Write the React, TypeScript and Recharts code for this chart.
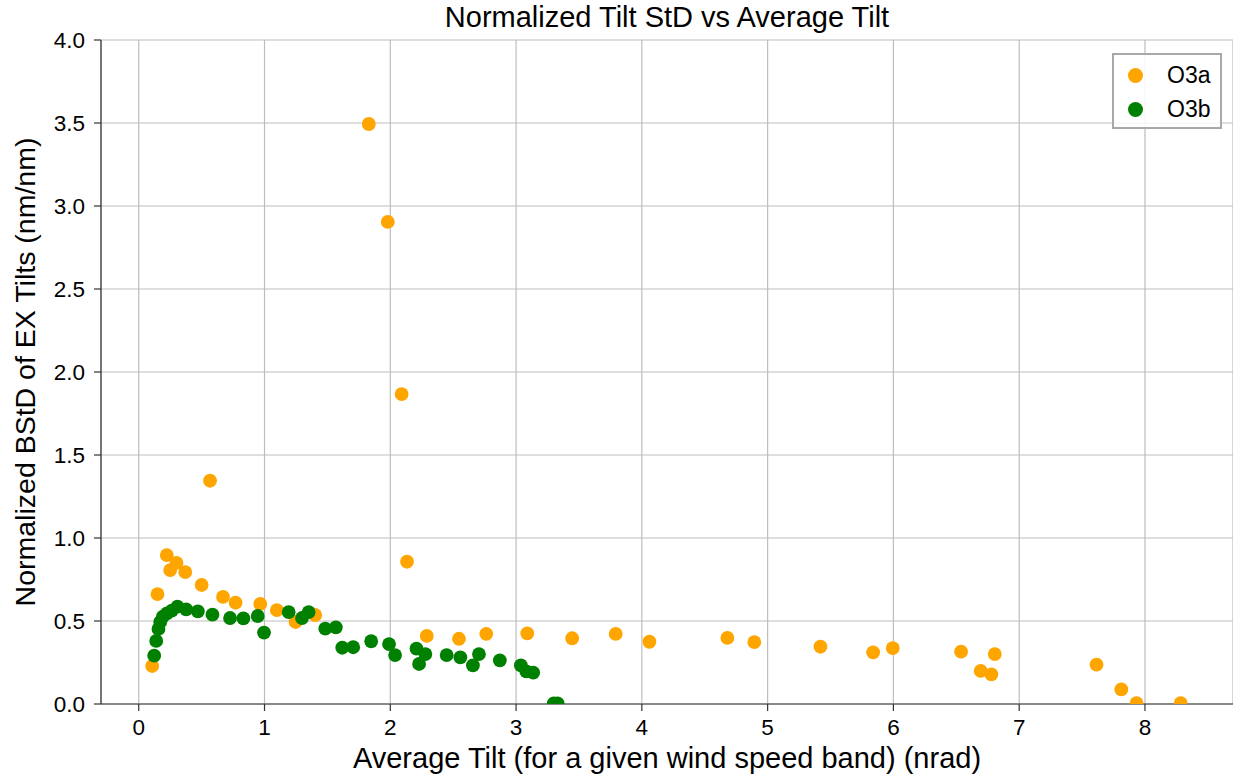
import React from "react";
import { ScatterChart, Scatter, XAxis, YAxis, CartesianGrid } from "recharts";

// O3a readings (average tilt, normalized std)
const o3aX = [
  0.107, 0.149, 0.223, 0.25, 0.3, 0.37, 0.5, 0.567, 0.67, 0.77, 0.966, 1.098,
  1.247, 1.403, 1.829, 1.98, 2.09, 2.133, 2.29, 2.546, 2.763, 3.089, 3.446,
  3.792, 4.06, 4.68, 4.894, 5.42, 5.839, 5.995, 6.538, 6.694, 6.779, 6.806,
  7.615, 7.812, 7.933, 8.284,
];
const o3aY = [
  0.229, 0.662, 0.897, 0.807, 0.85, 0.795, 0.717, 1.345, 0.645, 0.61, 0.603,
  0.565, 0.494, 0.536, 3.494, 2.904, 1.867, 0.857, 0.41, 0.393, 0.423, 0.426,
  0.396, 0.422, 0.375, 0.398, 0.373, 0.345, 0.311, 0.337, 0.315, 0.199, 0.179,
  0.301, 0.237, 0.088, 0.005, 0.005,
];

// O3b readings
const o3bX = [
  0.123, 0.139, 0.157, 0.171, 0.192, 0.224, 0.263, 0.308, 0.377, 0.47, 0.586,
  0.726, 0.832, 0.946, 0.996, 1.192, 1.298, 1.351, 1.483, 1.567, 1.618, 1.705,
  1.848, 1.99, 2.038, 2.208, 2.229, 2.279, 2.448, 2.557, 2.657, 2.705, 2.871,
  3.038, 3.081, 3.136, 3.3, 3.33,
];
const o3bY = [
  0.291, 0.38, 0.452, 0.494, 0.526, 0.546, 0.562, 0.586, 0.57, 0.558, 0.538,
  0.518, 0.516, 0.53, 0.43, 0.554, 0.518, 0.554, 0.454, 0.462, 0.339, 0.342,
  0.378, 0.361, 0.295, 0.333, 0.241, 0.301, 0.295, 0.281, 0.233, 0.301, 0.263,
  0.233, 0.197, 0.189, 0.004, 0.004,
];

const xTicks = [0, 1, 2, 3, 4, 5, 6, 7, 8];
const yTicks = [0, 0.5, 1, 1.5, 2, 2.5, 3, 3.5, 4];
const seriesNames = ["O3a", "O3b"];

const ORANGE = "#ffa500";
const GREEN = "#008000";
const FONT = "'Liberation Sans', Arial, Helvetica, sans-serif";

const o3a = o3aX.map((x, i) => ({ x, y: o3aY[i] }));
const o3b = o3bX.map((x, i) => ({ x, y: o3bY[i] }));

const dot = (color: string) => (props: any) =>
  <circle cx={props.cx} cy={props.cy} r={6.9} fill={color} />;

function LegendBox() {
  const colors = [ORANGE, GREEN];
  return (
    <div
      style={{
        position: "absolute",
        left: 1112,
        top: 53,
        width: 110,
        height: 76,
        border: "2px solid #a8a8a8",
        background: "rgba(255,255,255,0.85)",
        boxSizing: "border-box",
        padding: "3px 0 0 14px",
        fontFamily: FONT,
        fontSize: 23,
        color: "#000",
      }}
    >
      {seriesNames.map((name, i) => (
        <div key={name} style={{ display: "flex", alignItems: "center", height: 34 }}>
          <span
            style={{
              width: 15,
              height: 15,
              borderRadius: 8,
              background: colors[i],
              display: "inline-block",
              marginRight: 24,
              flexShrink: 0,
            }}
          />
          <span>{name}</span>
        </div>
      ))}
    </div>
  );
}

export default function App() {
  return (
    <div
      style={{
        position: "absolute",
        left: 0,
        top: 0,
        width: 1233,
        height: 780,
        background: "#fff",
        fontFamily: FONT,
        overflow: "hidden",
      }}
    >
      <div
        style={{
          position: "absolute",
          left: 101,
          width: 1132,
          top: 3,
          textAlign: "center",
          fontSize: 29,
          lineHeight: "29px",
          color: "#000",
          whiteSpace: "nowrap",
        }}
      >
        Normalized Tilt StD vs Average Tilt
      </div>
      <ScatterChart
        width={1233}
        height={780}
        margin={{ top: 40, right: 0, bottom: 0, left: 0 }}
      >
        <CartesianGrid stroke="#bdbdbd" strokeWidth={1.2} />
        <XAxis
          type="number"
          dataKey="x"
          domain={[-0.3, 8.7]}
          ticks={xTicks}
          allowDataOverflow
          interval={0}
          stroke="#333"
          strokeWidth={1.2}
          tickSize={7}
          tickMargin={8}
          tick={{ fill: "#000", fontSize: 22.5, fontFamily: FONT }}
          height={76}
          label={{
            value: "Average Tilt (for a given wind speed band) (nrad)",
            position: "insideBottom",
            offset: 12,
            fill: "#000",
            fontSize: 29,
            fontFamily: FONT,
          }}
        />
        <YAxis
          type="number"
          dataKey="y"
          domain={[0, 4]}
          ticks={yTicks}
          allowDataOverflow
          interval={0}
          width={101}
          stroke="#333"
          strokeWidth={1.2}
          tickSize={7}
          tickMargin={9}
          tickFormatter={(v: number) => v.toFixed(1)}
          tick={{ fill: "#000", fontSize: 22.5, fontFamily: FONT }}
          label={{
            value: "Normalized BStD of EX Tilts (nm/nm)",
            angle: -90,
            position: "insideLeft",
            offset: 0,
            fill: "#000",
            fontSize: 28.5,
            fontFamily: FONT,
            dx: 25,
            style: { textAnchor: "middle" },
          }}
        />
        <Scatter
          name={seriesNames[0]}
          data={o3a}
          fill={ORANGE}
          shape={dot(ORANGE)}
          isAnimationActive={false}
        />
        <Scatter
          name={seriesNames[1]}
          data={o3b}
          fill={GREEN}
          shape={dot(GREEN)}
          isAnimationActive={false}
        />
      </ScatterChart>
      <LegendBox />
    </div>
  );
}
